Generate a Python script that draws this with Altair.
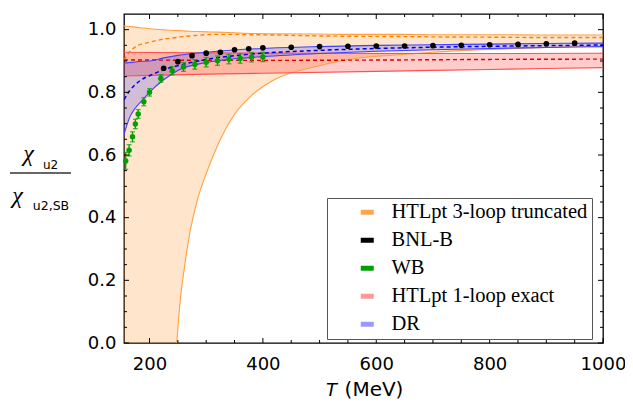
import altair as alt
import pandas as pd

W, H = 479, 329

# ---- HTLpt 3-loop truncated (orange band) ----
o_T = [155, 165, 175, 200, 230, 248, 251, 255, 260, 270, 285, 300, 320, 350, 380, 420, 500, 550, 640, 700, 800, 900, 1000]
o_hi = [1.012, 1.010, 1.008, 1.003, 0.999, 0.997, 0.997, 0.997, 0.996, 0.995, 0.994, 0.993, 0.992, 0.990, 0.988, 0.987, 0.986, 0.985, 0.985, 0.984, 0.984, 0.983, 0.983]
o_mid = [0.903, 0.930, 0.945, 0.960, 0.971, 0.975, 0.976, 0.977, 0.978, 0.980, 0.982, 0.984, 0.985, 0.985, 0.984, 0.983, 0.980, 0.979, 0.978, 0.977, 0.976, 0.975, 0.975]
o_lo = [-6.0, -5.0, -4.0, -2.0, -0.6, 0.0, 0.07, 0.15, 0.22, 0.34, 0.46, 0.54, 0.63, 0.73, 0.79, 0.84, 0.885, 0.905, 0.920, 0.928, 0.937, 0.943, 0.948]

# ---- HTLpt 1-loop exact (red band) ----
r_T = [155, 200, 300, 400, 600, 800, 1000]
r_hi = [0.928, 0.927, 0.926, 0.925, 0.924, 0.924, 0.925]
r_mid = [0.903, 0.903, 0.902, 0.902, 0.903, 0.905, 0.906]
r_lo = [0.852, 0.854, 0.858, 0.861, 0.867, 0.873, 0.879]

# ---- DR (blue band) ----
d_T = [155, 165, 175, 190, 200, 225, 250, 300, 350, 400, 500, 600, 700, 800, 900, 1000]
d_hi = [0.893, 0.895, 0.897, 0.899, 0.900, 0.910, 0.918, 0.928, 0.935, 0.940, 0.946, 0.950, 0.952, 0.954, 0.956, 0.957]
d_mid = [0.776, 0.805, 0.825, 0.845, 0.853, 0.872, 0.885, 0.905, 0.917, 0.925, 0.934, 0.940, 0.944, 0.947, 0.949, 0.951]
d_lo = [0.665, 0.720, 0.750, 0.780, 0.800, 0.840, 0.870, 0.895, 0.907, 0.914, 0.924, 0.931, 0.936, 0.940, 0.943, 0.946]

# ---- BNL-B lattice points ----
b_T = [225, 250, 275, 300, 325, 350, 375, 400, 450, 500, 550, 600, 650, 700, 750, 800, 850, 900, 950]
b_v = [0.877, 0.898, 0.917, 0.925, 0.928, 0.936, 0.939, 0.942, 0.944, 0.946, 0.947, 0.948, 0.948, 0.949, 0.950, 0.952, 0.953, 0.955, 0.957]

# ---- WB lattice points ----
w_T = [158, 164, 170, 175, 180, 190, 200, 220, 240, 260, 280, 300, 320, 340, 360, 380, 400]
w_v = [0.581, 0.615, 0.658, 0.699, 0.731, 0.770, 0.800, 0.844, 0.869, 0.881, 0.889, 0.896, 0.901, 0.906, 0.908, 0.912, 0.913]
w_e = [0.027, 0.018, 0.016, 0.015, 0.014, 0.013, 0.012, 0.012, 0.013, 0.014, 0.015, 0.015, 0.015, 0.015, 0.015, 0.015, 0.015]

# ---- legend ----
leg_names = ["HTLpt 3-loop truncated", "BNL-B", "WB", "HTLpt 1-loop exact", "DR"]
leg_colors = ["#ffa64d", "#000000", "#00a000", "#ff9999", "#9999ff"]

# ---- axes ticks ----
x_major = [200, 400, 600, 800, 1000]
x_minor = [250, 300, 350, 450, 500, 550, 650, 700, 750, 850, 900, 950]
y_major = [0.0, 0.2, 0.4, 0.6, 0.8, 1.0]
y_minor = [0.05, 0.10, 0.15, 0.25, 0.30, 0.35, 0.45, 0.50, 0.55, 0.65, 0.70, 0.75, 0.85, 0.90, 0.95]

xs = alt.Scale(domain=[155, 1000], nice=False, zero=False)
ys = alt.Scale(domain=[0, 1.05], nice=False, zero=False)
xaxis = alt.Axis(values=x_major, format="d", ticks=False, domain=False, grid=False, title=None,
                 labelFont="DejaVu Sans", labelFontSize=18, labelColor="black", labelPadding=12,
                 labelFlush=False)
yaxis = alt.Axis(values=y_major, format=".1f", ticks=False, domain=False, grid=False, title=None,
                 labelFont="DejaVu Sans", labelFontSize=18, labelColor="black", labelPadding=8)


def X(f="T"):
    return alt.X(f"{f}:Q", scale=xs, axis=xaxis)


def Y(f):
    return alt.Y(f"{f}:Q", scale=ys, axis=yaxis)


def band(T, hi, lo, color, op):
    df = pd.DataFrame({"T": T, "hi": hi, "lo": lo})
    return alt.Chart(df).mark_area(color=color, opacity=op, clip=True, interpolate="monotone").encode(
        x=X(), y=Y("hi"), y2="lo:Q")


def line(T, vals, color, width=1.1, dash=None):
    df = pd.DataFrame({"T": T, "v": vals})
    kw = dict(color=color, strokeWidth=width, clip=True, interpolate="monotone")
    if dash is not None:
        kw["strokeDash"] = dash
    return alt.Chart(df).mark_line(**kw).encode(x=X(), y=Y("v"))


layers = [
    band(o_T, o_hi, o_lo, "#ff9933", 0.25),
    band(r_T, r_hi, r_lo, "#ff0000", 0.2),
    band(d_T, d_hi, d_lo, "#3030ff", 0.22),
    line(o_T, o_hi, "#ffa040"),
    line(o_T, o_lo, "#ffa040"),
    line(o_T, o_mid, "#ff8000", 1.4, [4, 3]),
    line(r_T, r_hi, "#ff5050"),
    line(r_T, r_lo, "#ff5050"),
    line(r_T, r_mid, "#e00000", 1.4, [4, 3]),
    line(d_T, d_hi, "#4040ff"),
    line(d_T, d_lo, "#4040ff"),
    line(d_T, d_mid, "#0000dd", 1.5, [4, 3]),
]

wdf = pd.DataFrame({"T": w_T, "v": w_v, "e": w_e})
wdf["lo"] = wdf["v"] - wdf["e"]
wdf["hi"] = wdf["v"] + wdf["e"]
wbase = alt.Chart(wdf)
layers += [
    wbase.mark_rule(color="#00a000", strokeWidth=1.3).encode(x=X(), y=Y("lo"), y2="hi:Q"),
    wbase.mark_tick(color="#00a000", orient="horizontal", size=5, thickness=1.3).encode(x=X(), y=Y("lo")),
    wbase.mark_tick(color="#00a000", orient="horizontal", size=5, thickness=1.3).encode(x=X(), y=Y("hi")),
    wbase.mark_circle(color="#00a000", size=30, opacity=1).encode(x=X(), y=Y("v")),
]

bdf = pd.DataFrame({"T": b_T, "v": b_v})
layers.append(alt.Chart(bdf).mark_circle(color="black", size=32, opacity=1).encode(x=X(), y=Y("v")))


# inward ticks on all four sides
def xticks(vals, L):
    df = pd.DataFrame({"T": vals})
    c = alt.Chart(df)
    return [
        c.mark_rule(color="black", strokeWidth=1).encode(x=X(), y=alt.value(H), y2=alt.value(H - L)),
        c.mark_rule(color="black", strokeWidth=1).encode(x=X(), y=alt.value(0), y2=alt.value(L)),
    ]


def yticks(vals, L):
    df = pd.DataFrame({"v": vals})
    c = alt.Chart(df)
    return [
        c.mark_rule(color="black", strokeWidth=1).encode(y=Y("v"), x=alt.value(0), x2=alt.value(L)),
        c.mark_rule(color="black", strokeWidth=1).encode(y=Y("v"), x=alt.value(W), x2=alt.value(W - L)),
    ]


layers += xticks(x_major, 5) + xticks(x_minor, 3) + yticks(y_major, 5) + yticks(y_minor, 3)

# legend driven by a colour scale (zero-length rules)
ldf = pd.DataFrame({"name": leg_names, "T": [155] * 5, "v": [0.0] * 5})
layers.append(
    alt.Chart(ldf).mark_rule(strokeWidth=5, strokeCap="butt").encode(
        x=X(), y=Y("v"), y2="v:Q",
        color=alt.Color("name:N", scale=alt.Scale(domain=leg_names, range=leg_colors),
                        sort=leg_names,
                        legend=alt.Legend(orient="none", legendX=203, legendY=184, title=None,
                                          fillColor="white", strokeColor="#555555", padding=4,
                                          symbolType="stroke", symbolSize=169, symbolStrokeWidth=5,
                                          symbolOffset=26, labelOffset=14,
                                          labelFont="Liberation Serif", labelFontSize=20.5,
                                          labelColor="black", rowPadding=7, labelLimit=400)))
)

# axis titles as text
layers += [
    alt.Chart(pd.DataFrame({"s": ["\u03c7"]})).mark_text(font="Liberation Serif", fontStyle="italic",
                                                      fontSize=24, align="center", baseline="alphabetic",
                                                      color="black").encode(
        x=alt.value(-95.5), y=alt.value(147), text="s:N"),
    alt.Chart(pd.DataFrame({"s": ["u2"]})).mark_text(font="DejaVu Sans", fontSize=12, align="center",
                                                   baseline="alphabetic", color="black").encode(
        x=alt.value(-73.5), y=alt.value(154.5), text="s:N"),
    alt.Chart(pd.DataFrame({"s": ["\u03c7"]})).mark_text(font="Liberation Serif", fontStyle="italic",
                                                      fontSize=24, align="center", baseline="alphabetic",
                                                      color="black").encode(
        x=alt.value(-106.5), y=alt.value(188.5), text="s:N"),
    alt.Chart(pd.DataFrame({"s": ["u2,SB"]})).mark_text(font="DejaVu Sans", fontSize=12.5, align="center",
                                                      baseline="alphabetic", color="black").encode(
        x=alt.value(-73), y=alt.value(196), text="s:N"),
    alt.Chart(pd.DataFrame({"s": ["bar"]})).mark_rule(color="#333333", strokeWidth=1.3).encode(
        x=alt.value(-114), x2=alt.value(-53), y=alt.value(159)),
    alt.Chart(pd.DataFrame({"s": ["T"]})).mark_text(font="DejaVu Sans", fontStyle="italic", fontSize=18,
                                                  align="center", baseline="alphabetic", color="black").encode(
        x=alt.value(207.5), y=alt.value(382), text="s:N"),
    alt.Chart(pd.DataFrame({"s": ["(MeV)"]})).mark_text(font="DejaVu Sans", fontSize=20, align="center",
                                                      baseline="alphabetic", color="black").encode(
        x=alt.value(250), y=alt.value(382), text="s:N"),
]

chart = alt.layer(*layers).properties(
    width=W, height=H,
    autosize=alt.AutoSizeParams(type="none"),
    padding={"left": 116, "top": 6, "right": 22, "bottom": 62},
).configure_view(stroke="black", strokeWidth=1.3)

chart.save("out.html", embed_options={"renderer": "svg", "actions": False})
